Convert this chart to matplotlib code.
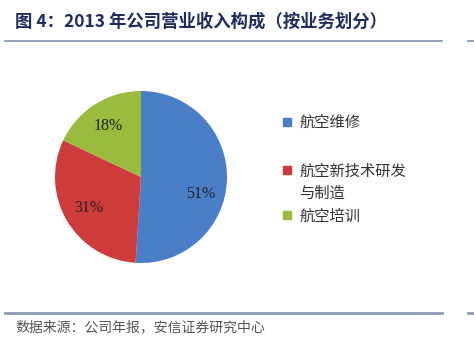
import matplotlib
matplotlib.use('Agg')
import matplotlib.pyplot as plt
from matplotlib.patches import Rectangle
from matplotlib.lines import Line2D

plt.rcParams['font.family'] = ['Noto Sans CJK SC', 'DejaVu Sans']

labels = ['航空维修', '航空新技术研发\n与制造', '航空培训']
shares = [51, 31, 18]
colors = ['#4A7EC6', '#CD3B3B', '#9BBB3E']

W, H = 474, 341
fig = plt.figure(figsize=(W / 100, H / 100), dpi=100)

def fx(px):
    return px / W

def fy(py):
    return 1 - py / H

# title and rules
fig.text(fx(15), fy(22), '图 4：2013 年公司营业收入构成（按业务划分）',
         fontsize=12.5, fontweight='bold', color='#1F2B5C', va='center')
for y, lw in [(41, 1.3), (313, 2.0)]:
    fig.add_artist(Line2D([fx(5), fx(442)], [fy(y), fy(y)], color='#8A9BB3', lw=lw))
    fig.add_artist(Line2D([fx(468), fx(474)], [fy(y), fy(y)], color='#8A9BB3', lw=lw))
fig.text(fx(15), fy(327), '数据来源：公司年报，安信证券研究中心',
         fontsize=10, color='#555555', va='center')

# pie
ax = fig.add_axes([fx(55), fy(263), fx(172), 172 / H])
wedges, texts, autotexts = ax.pie(
    shares, colors=colors, startangle=90, counterclock=False,
    autopct='%d%%', pctdistance=0.7,
    textprops=dict(family='Liberation Serif', fontsize=11.5, color='#222222'))
x, y = autotexts[0].get_position()
autotexts[0].set_position((x, y - 0.17))
ax.set_xlim(-1, 1)
ax.set_ylim(-1, 1)
ax.set_aspect('equal')
ax.axis('off')

# legend
legend_y = [122, 170, 215]
for lab, col, ly in zip(labels, colors, legend_y):
    fig.add_artist(Rectangle((fx(283), fy(ly + 4)), fx(8), 8 / H, color=col))
    fig.text(fx(299), fy(ly - 7), lab, fontsize=11, color='#333333',
             va='top', linespacing=1.4)

plt.savefig('out.png', dpi=100)
